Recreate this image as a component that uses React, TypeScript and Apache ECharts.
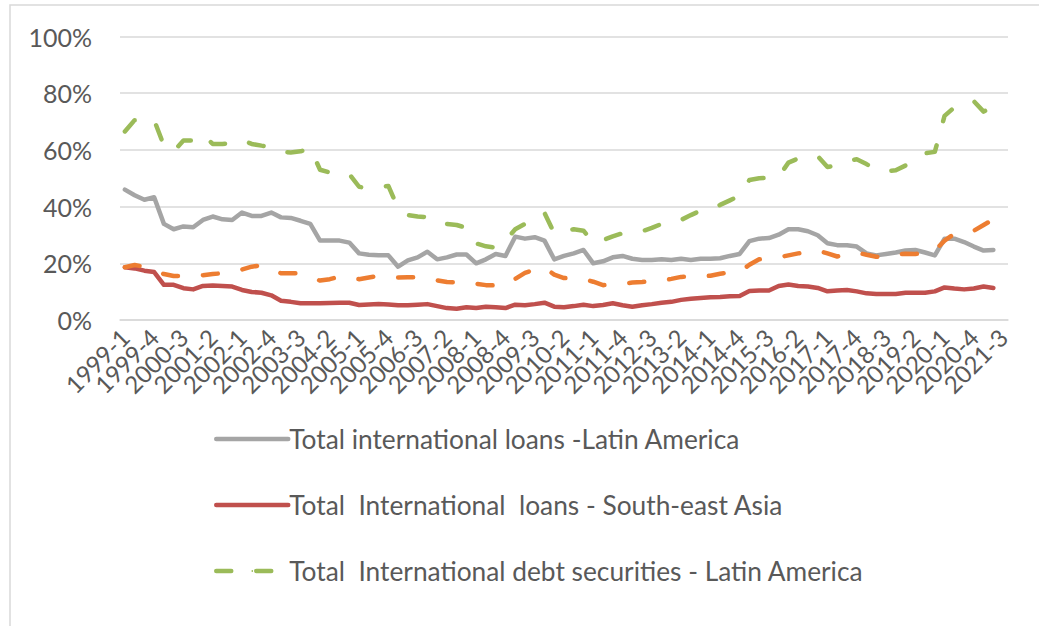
import React, { useEffect, useRef } from "react";
import * as echarts from "echarts";

const categories = [
  "1999-1","1999-2","1999-3","1999-4","2000-1","2000-2","2000-3","2000-4",
  "2001-1","2001-2","2001-3","2001-4","2002-1","2002-2","2002-3","2002-4",
  "2003-1","2003-2","2003-3","2003-4","2004-1","2004-2","2004-3","2004-4",
  "2005-1","2005-2","2005-3","2005-4","2006-1","2006-2","2006-3","2006-4",
  "2007-1","2007-2","2007-3","2007-4","2008-1","2008-2","2008-3","2008-4",
  "2009-1","2009-2","2009-3","2009-4","2010-1","2010-2","2010-3","2010-4",
  "2011-1","2011-2","2011-3","2011-4","2012-1","2012-2","2012-3","2012-4",
  "2013-1","2013-2","2013-3","2013-4","2014-1","2014-2","2014-3","2014-4",
  "2015-1","2015-2","2015-3","2015-4","2016-1","2016-2","2016-3","2016-4",
  "2017-1","2017-2","2017-3","2017-4","2018-1","2018-2","2018-3","2018-4",
  "2019-1","2019-2","2019-3","2019-4","2020-1","2020-2","2020-3","2020-4",
  "2021-1","2021-2","2021-3",
];

const loansLatinAmerica = [
  46, 44, 42.4, 43.3, 33.9, 32, 33, 32.7, 35.3, 36.5,
  35.5, 35.3, 37.9, 36.7, 36.7, 37.9, 36.2, 36, 35, 33.9,
  28, 28, 28, 27.3, 23.5, 23, 22.8, 22.8, 18.8, 21, 22.1,
  24.1, 21.4, 22.1, 23.1, 23.1, 20, 21.4, 23.3, 22.6, 29.4,
  28.7, 29.2, 28, 21.4, 22.6, 23.5, 24.7, 20, 20.7, 22.1,
  22.6, 21.6, 21.2, 21.2, 21.4, 21.2, 21.6, 21.2, 21.6, 21.6,
  21.8, 22.6, 23.3, 27.8, 28.7, 28.9, 30.1, 32, 32, 31.3,
  29.9, 27.1, 26.4, 26.4, 25.9, 23.5, 22.8, 23.3, 23.8, 24.5,
  24.7, 23.8, 22.8, 28.7, 28.7, 27.5, 25.9, 24.5, 24.7, null,
];

const loansSouthEastAsia = [
  18.6, 18.2, 17.4, 16.9, 12.4, 12.4, 11.2, 10.8, 12, 12.2,
  12, 11.8, 10.6, 9.9, 9.6, 8.7, 6.8, 6.4, 5.9, 5.9,
  5.9, 6, 6.1, 6.1, 5.3, 5.5, 5.6, 5.5, 5.2, 5.2, 5.4,
  5.6, 4.9, 4.2, 4, 4.5, 4.2, 4.7, 4.5, 4.2, 5.4,
  5.2, 5.6, 6.1, 4.7, 4.5, 4.9, 5.4, 4.9, 5.3, 5.9,
  5.2, 4.7, 5.2, 5.6, 6.1, 6.4, 7.1, 7.5, 7.8, 8,
  8.1, 8.4, 8.5, 10.2, 10.4, 10.4, 12, 12.5, 12, 11.8,
  11.3, 10.1, 10.4, 10.6, 10.1, 9.4, 9.2, 9.2, 9.2, 9.6,
  9.6, 9.6, 10.1, 11.5, 11.1, 10.8, 11.1, 11.8, 11.3, null,
];

const debtLatinAmerica = [
  66.5, 70.5, 70.5, 70.5, 61.5, 59.5, 63.3, 63.3, 65.5, 62.1,
  62.1, 62.5, 63.5, 62.1, 61.5, 61, 59.3, 59.1, 59.5, 60.6,
  53, 52, 51.8, 51.5, 47, 46.4, 46.8, 47.3, 39.4, 37, 36.5,
  36.3, 34.1, 33.9, 33.5, 32.5, 27, 26, 25.5, 28, 32,
  33.9, 35.8, 37.8, 30.6, 31.5, 32, 31.5, 27.3, 28.2, 29.5,
  30.6, 31, 31.3, 32.5, 33.9, 33.9, 35.3, 37, 38.6, 38.8,
  40.6, 42.2, 43.8, 49.4, 50, 50.1, 50.6, 55.5, 57, 57.3,
  57.8, 54, 54.5, 56, 56.7, 55, 53, 52.5, 52.8, 54.5,
  57, 58.8, 59.3, 72, 75, 76, 77.2, 73.5, 75.5, 77.6,
];

const debtSouthEastAsia = [
  18.6, 19.4, 18.8, 17.5, 16.2, 15.5, 15.5, 15.6, 15.8, 16.2,
  16.5, 17, 17.8, 18.8, 19.3, 18, 16.5, 16.5, 16.5, 15.2,
  13.9, 14.4, 15.3, 14.8, 14.4, 15, 15.5, 15.3, 15, 15.1, 15.1,
  14.5, 14, 13.4, 13.3, 13.2, 12.8, 12.3, 12.2, 12.3, 14.5,
  16.6, 17.8, 18.5, 16, 14.8, 14.7, 14.5, 13.5, 12.3, 12.5,
  12.8, 13.2, 13.4, 13.7, 13.9, 14.5, 15.2, 15.3, 15.5, 15.6,
  16.3, 16.8, 17, 19.5, 21.4, 21.6, 22.1, 22.8, 23.5, 23.8,
  24.5, 23.5, 22.4, 23, 23.8, 23, 22.3, 22.1, 23, 23.4,
  23.3, 23.7, 24.5, 28, 30.4, 31, 31.5, 33.5, 35.5, 36.5,
];

const legendNames = [
  "Total international loans -Latin America",
  "Total  International  loans - South-east Asia",
  "Total  International debt securities - Latin America",
];
const hiddenName = "Total  International debt securities - South-east Asia";

const LABEL_STEP = 3;

const FONT = "Lato, 'Noto Sans', sans-serif";
const TEXT = "#595959";

export default function App() {
  const ref = useRef<HTMLDivElement>(null);
  useEffect(() => {
    if (!ref.current) return;
    const chart = echarts.init(ref.current, null, { renderer: "svg" });
    const dash = { type: [15, 25] as any, cap: "round" as any, join: "round" as any };
    chart.setOption({
      animation: false,
      backgroundColor: "#ffffff",
      textStyle: { fontFamily: FONT },
      grid: {
        left: 120,
        right: 31,
        top: 36.5,
        bottom: 306,
        containLabel: false,
        outerBoundsMode: "none",
      },
      graphic: [
        {
          type: "rect",
          shape: { x: 10, y: 5, width: 1200, height: 800 },
          style: { fill: "none", stroke: "#d9d9d9", lineWidth: 1.5 },
          silent: true,
          z: -1,
        },
      ],
      legend: {
        orient: "vertical",
        left: 209,
        top: 421,
        itemWidth: 72,
        itemHeight: 2,
        itemGap: 40,
        data: legendNames,
        lineStyle: { width: 4.5, cap: "round" },
        textStyle: {
          fontFamily: FONT,
          fontSize: 26.3,
          color: TEXT,
          lineHeight: 25,
          padding: [0, 0, 0, -4],
        },
        selectedMode: false,
      },
      xAxis: {
        type: "category",
        data: categories,
        boundaryGap: true,
        axisLine: { show: true, lineStyle: { color: "#d9d9d9", width: 1.5 } },
        axisTick: { show: false },
        axisLabel: {
          interval: 0,
          formatter: (value: string, index: number) =>
            index % LABEL_STEP === 0 ? value : "",
          rotate: 45,
          margin: 13,
          hideOverlap: false,
          fontFamily: FONT,
          fontSize: 24,
          color: TEXT,
        },
      },
      yAxis: {
        type: "value",
        min: 0,
        max: 100,
        interval: 20,
        axisLine: { show: false },
        axisTick: { show: false },
        axisLabel: {
          formatter: "{value}%",
          margin: 28,
          fontFamily: FONT,
          fontSize: 25,
          color: TEXT,
        },
        splitLine: { lineStyle: { color: "#d9d9d9", width: 1.5 } },
      },
      series: [
        {
          name: legendNames[0],
          type: "line",
          data: loansLatinAmerica,
          showSymbol: false,
          symbol: "none",
          color: "#a5a5a5",
          lineStyle: { color: "#a5a5a5", width: 4.5, cap: "round", join: "round" },
        },
        {
          name: legendNames[1],
          type: "line",
          data: loansSouthEastAsia,
          showSymbol: false,
          symbol: "none",
          color: "#c0504d",
          lineStyle: { color: "#c0504d", width: 4.5, cap: "round", join: "round" },
        },
        {
          name: hiddenName,
          type: "line",
          data: debtSouthEastAsia,
          showSymbol: false,
          symbol: "none",
          color: "#ed7d31",
          lineStyle: { color: "#ed7d31", width: 4.5, ...dash },
        },
        {
          name: legendNames[2],
          type: "line",
          data: debtLatinAmerica,
          showSymbol: false,
          symbol: "none",
          color: "#9bbb59",
          lineStyle: { color: "#9bbb59", width: 4.5, ...dash },
        },
      ],
    });
    return () => chart.dispose();
  }, []);
  return (
    <div
      ref={ref}
      style={{ position: "fixed", left: 0, top: 0, width: 1039, height: 626 }}
    />
  );
}
